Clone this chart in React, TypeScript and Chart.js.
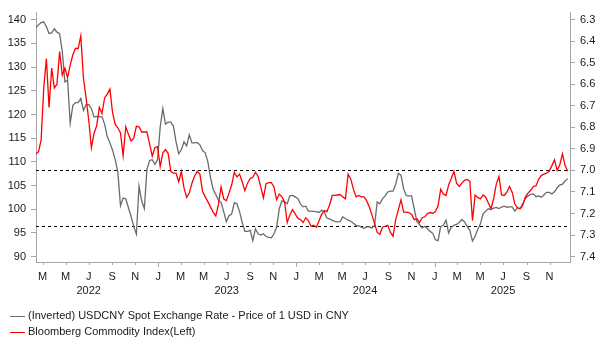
import { useEffect, useRef } from "react";
import { Chart, registerables } from "chart.js";

Chart.register(...registerables);

// Weekly observations starting at START_DATE
const START_DATE = "2022-02-11";
const STEP_DAYS = 7;

// Bloomberg Commodity Index (left axis)
const bcomValues = [
  111.7, 112.1, 114.6, 125.6, 131.8, 121.5, 129.8, 125.6, 126.4, 133.3,
  128.3, 129.8, 127.8, 130.4, 132.6, 134.0, 133.9, 136.6, 127.7, 123.5,
  118.8, 113.0, 116.0, 117.6, 121.5, 120.2, 123.5, 124.3, 125.4, 120.4,
  117.9, 117.2, 116.1, 111.3, 117.4, 115.8, 114.4, 115.0, 117.5, 117.4,
  116.3, 116.3, 116.3, 113.8, 111.2, 113.0, 113.2, 109.0, 111.9, 112.6,
  111.8, 108.0, 107.6, 107.6, 105.8, 108.0, 104.5, 102.5, 103.4, 105.5,
  107.0, 108.0, 107.4, 103.8, 102.6, 101.6, 100.5, 99.4, 98.6, 100.9,
  104.7, 102.2, 101.8, 103.4, 105.1, 107.8, 106.8, 107.4, 105.8, 103.9,
  105.5, 106.5, 106.7, 107.8, 106.9, 104.7, 102.4, 105.4, 105.6, 105.6,
  104.7, 102.0, 103.2, 102.6, 101.6, 97.2, 98.8, 99.9, 99.0, 98.1,
  97.8, 97.2, 98.2, 97.6, 96.4, 96.6, 96.2, 97.5, 98.9, 99.7,
  99.5, 100.9, 102.9, 102.9, 103.0, 103.1, 102.6, 102.2, 107.4, 106.4,
  104.3, 102.6, 102.9, 102.6, 102.6, 101.8, 100.5, 98.8, 97.0, 95.1,
  94.7, 96.2, 96.4, 96.6, 95.1, 94.3, 97.8, 99.9, 102.0, 99.4,
  99.4, 99.3, 98.9, 97.8, 98.0, 97.2, 98.2, 98.4, 99.1, 99.3,
  99.1, 99.5, 100.7, 104.2, 103.2, 102.9, 105.1, 106.5, 108.0, 105.5,
  104.8, 105.5, 106.1, 106.3, 105.9, 97.6, 103.0, 102.5, 102.2, 103.0,
  102.6, 101.3, 100.1, 102.2, 105.3, 106.9, 103.0, 102.9, 103.6, 104.8,
  103.6, 101.1, 100.3, 100.1, 100.8, 102.6, 103.4, 104.0, 104.8, 104.9,
  106.3, 107.1, 107.4, 107.6, 108.0, 109.2, 110.4, 108.2, 109.4, 111.7,
  109.2, 108.0,
];

// USDCNY spot (right axis, inverted)
const usdcnyValues = [
  6.338, 6.324, 6.314, 6.310, 6.333, 6.364, 6.361, 6.342, 6.358, 6.365,
  6.447, 6.589, 6.580, 6.781, 6.698, 6.685, 6.685, 6.666, 6.721, 6.694,
  6.694, 6.712, 6.752, 6.749, 6.751, 6.751, 6.785, 6.843, 6.872, 6.906,
  6.950, 7.009, 7.164, 7.128, 7.132, 7.173, 7.214, 7.260, 7.296, 7.073,
  7.141, 7.178, 6.995, 6.954, 6.950, 6.972, 6.950, 6.799, 6.712, 6.785,
  6.776, 6.776, 6.794, 6.867, 6.922, 6.904, 6.867, 6.886, 6.835, 6.872,
  6.872, 6.870, 6.881, 6.908, 6.918, 6.959, 7.032, 7.087, 7.112, 7.139,
  7.148, 7.191, 7.238, 7.210, 7.203, 7.150, 7.155, 7.191, 7.242, 7.283,
  7.283, 7.278, 7.326, 7.271, 7.294, 7.300, 7.294, 7.307, 7.311, 7.313,
  7.294, 7.264, 7.178, 7.141, 7.146, 7.155, 7.118, 7.116, 7.123, 7.130,
  7.155, 7.169, 7.166, 7.189, 7.189, 7.190, 7.191, 7.195, 7.185, 7.193,
  7.221, 7.225, 7.232, 7.237, 7.239, 7.238, 7.216, 7.223, 7.231, 7.236,
  7.245, 7.255, 7.257, 7.263, 7.269, 7.262, 7.262, 7.267, 7.255, 7.146,
  7.155, 7.132, 7.118, 7.100, 7.096, 7.096, 7.064, 7.013, 7.022, 7.086,
  7.117, 7.118, 7.118, 7.178, 7.237, 7.251, 7.267, 7.259, 7.271, 7.283,
  7.292, 7.322, 7.326, 7.260, 7.255, 7.231, 7.290, 7.264, 7.255, 7.251,
  7.242, 7.228, 7.239, 7.260, 7.278, 7.328, 7.306, 7.274, 7.248, 7.203,
  7.189, 7.178, 7.181, 7.175, 7.172, 7.177, 7.170, 7.166, 7.171, 7.169,
  7.169, 7.189, 7.173, 7.178, 7.155, 7.130, 7.118, 7.111, 7.109, 7.122,
  7.118, 7.124, 7.114, 7.102, 7.102, 7.109, 7.099, 7.080, 7.068, 7.064,
  7.049, 7.038,
];

const LEFT_TICKS = [90, 95, 100, 105, 110, 115, 120, 125, 130, 135, 140];
const RIGHT_TICKS = [6.3, 6.4, 6.5, 6.6, 6.7, 6.8, 6.9, 7.0, 7.1, 7.2, 7.3, 7.4];
const MONTH_LETTERS = ["J", "F", "M", "A", "M", "J", "J", "A", "S", "O", "N", "D"];
const TICK_MONTHS = [0, 2, 4, 6, 8, 10];
const YEARS = [2022, 2023, 2024, 2025, 2026];
const DASH_LEVELS = [7.0, 7.26]; // right-axis values
const LEGEND_ITEMS = [
  { label: "(Inverted) USDCNY Spot Exchange Rate - Price of 1 USD in CNY", color: "#6b6b6b" },
  { label: "Bloomberg Commodity Index(Left)", color: "#ff0000" },
];

const FONT_FAMILY = '"Liberation Sans", Arial, sans-serif';
const TEXT_COLOR = "#1a1a1a";
const AXIS_COLOR = "#a6a6a6";

const EPOCH = Date.UTC(2022, 0, 1);
const DAY_MS = 86400000;
const dayIndex = (y: number, m: number, d: number) => (Date.UTC(y, m, d) - EPOCH) / DAY_MS;
const [sy, sm, sd] = START_DATE.split("-").map(Number);
const START_DAY = dayIndex(sy, sm - 1, sd);

const X_MIN = 41.5; // ~ 2022-02-11
const X_MAX = 1454; // ~ 2025-12-25

const X_TICKS: number[] = [];
YEARS.forEach((y) =>
  TICK_MONTHS.forEach((m) => {
    const d = dayIndex(y, m, 1);
    if (d >= X_MIN && d <= X_MAX) X_TICKS.push(d);
  })
);

const dateOf = (day: number) => new Date(EPOCH + day * DAY_MS);

const overlayPlugin = {
  id: "overlay",
  beforeDatasetsDraw(chart: any) {
    const { ctx, chartArea } = chart;
    const yR = chart.scales.yR;
    ctx.save();
    ctx.strokeStyle = "#000000";
    ctx.lineWidth = 1;
    ctx.setLineDash([3, 3]);
    DASH_LEVELS.forEach((v) => {
      const y = Math.round(yR.getPixelForValue(v)) + 0.5;
      ctx.beginPath();
      ctx.moveTo(chartArea.left, y);
      ctx.lineTo(chartArea.right, y);
      ctx.stroke();
    });
    ctx.restore();
  },
  afterDraw(chart: any) {
    const { ctx, chartArea } = chart;
    const xs = chart.scales.x;
    ctx.save();
    // x tick marks
    ctx.strokeStyle = AXIS_COLOR;
    ctx.lineWidth = 1;
    X_TICKS.forEach((d) => {
      const px = Math.round(xs.getPixelForValue(d)) + 0.5;
      const isJan = dateOf(d).getUTCMonth() === 0;
      ctx.beginPath();
      ctx.moveTo(px, chartArea.bottom);
      ctx.lineTo(px, chartArea.bottom + (isJan ? 4.5 : 2.5));
      ctx.stroke();
    });
    // legend
    ctx.font = `11px ${FONT_FAMILY}`;
    ctx.textBaseline = "middle";
    ctx.textAlign = "left";
    LEGEND_ITEMS.forEach((item, i) => {
      const y = 315.5 + i * 16.5;
      ctx.strokeStyle = item.color;
      ctx.beginPath();
      ctx.moveTo(10, Math.round(y) + 0.5);
      ctx.lineTo(25, Math.round(y) + 0.5);
      ctx.stroke();
      ctx.fillStyle = TEXT_COLOR;
      ctx.fillText(item.label, 28, y);
    });
    ctx.restore();
  },
};

export default function App() {
  const ref = useRef<HTMLCanvasElement | null>(null);

  useEffect(() => {
    if (!ref.current) return;
    const font = { family: FONT_FAMILY, size: 11, lineHeight: 1.3 };
    const chart = new Chart(ref.current, {
      type: "line",
      data: {
        datasets: [
          {
            label: LEGEND_ITEMS[1].label,
            data: bcomValues.map((v, i) => ({ x: START_DAY + STEP_DAYS * i, y: v })),
            yAxisID: "yL",
            borderColor: "#ff0000",
            borderWidth: 1.3,
            pointRadius: 0,
            tension: 0,
          },
          {
            label: LEGEND_ITEMS[0].label,
            data: usdcnyValues.map((v, i) => ({ x: START_DAY + STEP_DAYS * i, y: v })),
            yAxisID: "yR",
            borderColor: "#6b6b6b",
            borderWidth: 1.3,
            pointRadius: 0,
            tension: 0,
          },
        ],
      },
      options: {
        responsive: false,
        animation: false,
        events: [],
        layout: { padding: { top: 8, left: 0, right: 0, bottom: 0 } },
        plugins: { legend: { display: false }, tooltip: { enabled: false } },
        scales: {
          x: {
            type: "linear",
            min: X_MIN,
            max: X_MAX,
            afterBuildTicks: (s: any) => {
              s.ticks = X_TICKS.map((v) => ({ value: v }));
            },
            afterFit: (s: any) => {
              s.height = 89.5;
            },
            ticks: {
              autoSkip: false,
              maxRotation: 0,
              minRotation: 0,
              padding: 7,
              font,
              color: TEXT_COLOR,
              callback: (value: any) => {
                const dt = dateOf(Number(value));
                const m = dt.getUTCMonth();
                return m === 6 ? [MONTH_LETTERS[m], String(dt.getUTCFullYear())] : MONTH_LETTERS[m];
              },
            },
            grid: { display: true, drawOnChartArea: false, drawTicks: false },
            border: { color: AXIS_COLOR },
          },
          yL: {
            type: "linear",
            position: "left",
            min: 88.75,
            max: 141.6,
            afterBuildTicks: (s: any) => {
              s.ticks = LEFT_TICKS.map((v) => ({ value: v }));
            },
            afterFit: (s: any) => {
              s.width = 36;
            },
            ticks: { padding: 5, font, color: TEXT_COLOR },
            grid: { drawOnChartArea: false, tickLength: 5, color: AXIS_COLOR },
            border: { color: AXIS_COLOR },
          },
          yR: {
            type: "linear",
            position: "right",
            reverse: true,
            min: 6.265,
            max: 7.4275,
            afterBuildTicks: (s: any) => {
              s.ticks = RIGHT_TICKS.map((v) => ({ value: v }));
            },
            afterFit: (s: any) => {
              s.width = 33;
            },
            ticks: {
              padding: 5,
              font,
              color: TEXT_COLOR,
              callback: (v: any) => Number(v).toFixed(1),
            },
            grid: { drawOnChartArea: false, tickLength: 5, color: AXIS_COLOR },
            border: { color: AXIS_COLOR },
          },
        },
      },
      plugins: [overlayPlugin],
    });
    return () => chart.destroy();
  }, []);

  return (
    <div style={{ position: "absolute", left: 0, top: 0, width: 603, height: 352, background: "#fff" }}>
      <canvas ref={ref} width={603} height={352} style={{ display: "block" }} />
    </div>
  );
}
